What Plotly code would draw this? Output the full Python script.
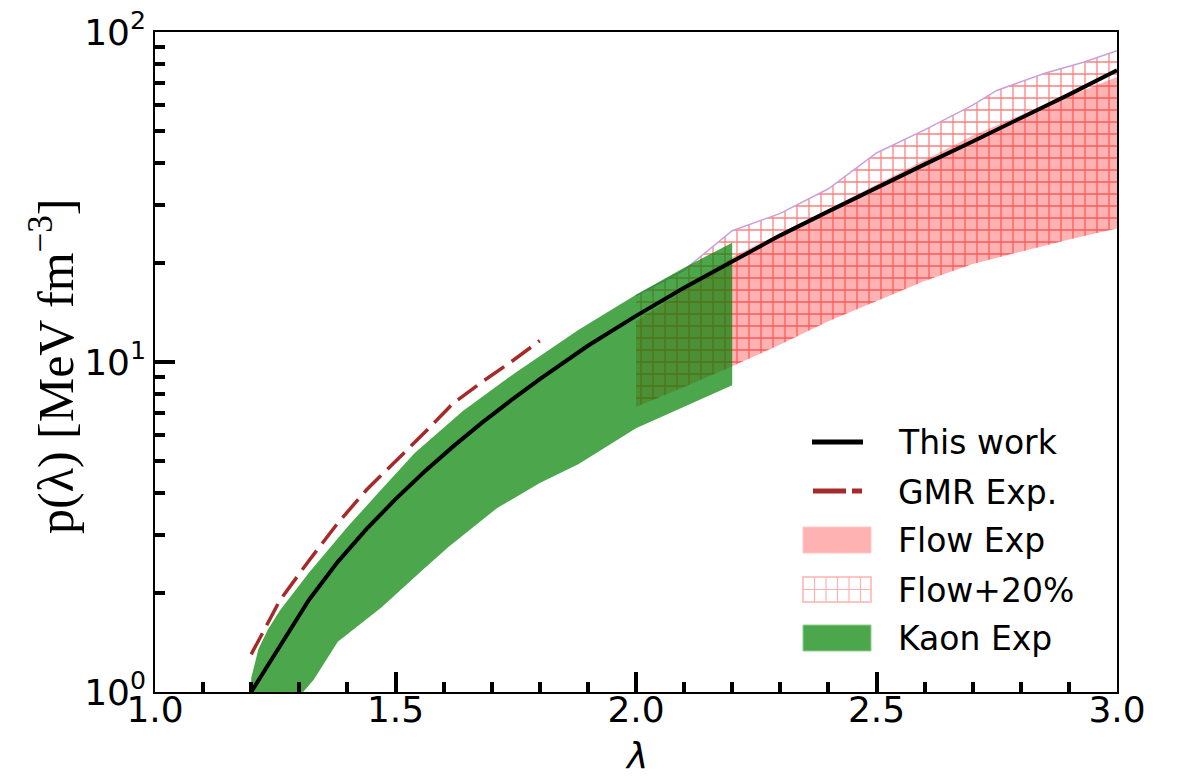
import plotly.graph_objects as go

# ---- data ----
lam_work = [1.2, 1.26, 1.32, 1.38, 1.44, 1.5, 1.56, 1.62, 1.68, 1.74, 1.8, 1.9,
            2.0, 2.1, 2.2, 2.3, 2.4, 2.5, 2.6, 2.7, 2.8, 2.9, 3.0]
p_work = [1.0, 1.38, 1.9, 2.48, 3.12, 3.84, 4.65, 5.55, 6.55, 7.65, 8.87, 11.2,
          13.8, 16.8, 20.2, 24.2, 28.6, 33.8, 39.7, 46.6, 54.7, 64.6, 76.6]

lam_gmr = [1.2, 1.26, 1.32, 1.38, 1.44, 1.5, 1.56, 1.62, 1.68, 1.74, 1.8]
p_gmr = [1.3, 1.9, 2.5, 3.25, 4.1, 5.0, 6.1, 7.5, 8.7, 10.0, 11.6]

lam_kaon_up = [1.2, 1.215, 1.235, 1.26, 1.32, 1.4, 1.47, 1.54, 1.64, 1.75, 1.88, 2.0, 2.1, 2.2]
p_kaon_up = [1.1, 1.35, 1.55, 1.77, 2.3, 3.16, 4.1, 5.3, 7.1, 9.3, 12.5, 16.0, 19.3, 23.0]
lam_kaon_lo = [1.2, 1.25, 1.3, 1.33, 1.38, 1.47, 1.55, 1.61, 1.71, 1.8, 1.88, 2.0, 2.1, 2.2]
p_kaon_lo = [0.55, 0.75, 0.97, 1.09, 1.42, 1.8, 2.3, 2.75, 3.6, 4.3, 4.9, 6.3, 7.3, 8.5]

lam_flow = [2.0, 2.1, 2.2, 2.3, 2.4, 2.5, 2.6, 2.7, 2.8, 2.9, 3.0]
p_flow_lo = [7.3, 8.4, 9.7, 11.3, 13.3, 15.3, 17.6, 19.8, 21.6, 23.5, 25.4]
p_flow_up = [13.3, 16.5, 20.8, 24.5, 29.0, 34.5, 41.0, 48.5, 56.0, 64.0, 73.0]
lam_flow20 = [2.0, 2.1, 2.2, 2.3, 2.4, 2.5, 2.6, 2.7, 2.75, 2.85, 2.93, 3.0]
p_flow20_up = [15.9, 19.0, 25.0, 28.2, 33.5, 43.0, 50.5, 60.0, 66.5, 75.0, 81.0, 87.7]

x_major = [1.0, 1.5, 2.0, 2.5, 3.0]
x_major_text = ["1.0", "1.5", "2.0", "2.5", "3.0"]
x_minor = [1.1, 1.2, 1.3, 1.4, 1.6, 1.7, 1.8, 1.9, 2.1, 2.2, 2.3, 2.4, 2.6, 2.7, 2.8, 2.9]
y_major = [1, 10, 100]
y_major_text = ["10<sup>0</sup>", "10<sup>1</sup>", "10<sup>2</sup>"]
y_minor = [2, 3, 4, 5, 6, 7, 8, 9, 20, 30, 40, 50, 60, 70, 80, 90]

legend_names = ["This work", "GMR Exp.", "Flow Exp", "Flow+20%", "Kaon Exp"]

# ---- page geometry (page pixels) ----
PL, PR, PT, PB = 155, 1117, 32, 692   # plot area in page pixels
W, H = 1178, 778


def xp(px):
    return (px - PL) / (PR - PL)


def yp(py):
    return (PB - py) / (PB - PT)


fig = go.Figure()

# Flow Exp (pink band)
fig.add_trace(go.Scatter(
    x=lam_flow + lam_flow[::-1], y=p_flow_up + p_flow_lo[::-1],
    fill="toself", fillcolor="rgba(255,0,0,0.3)", mode="lines",
    line=dict(width=0, color="rgba(255,0,0,0.3)"),
    name=legend_names[2], hoverinfo="skip"))

# Flow+20% (hatched band)
fig.add_trace(go.Scatter(
    x=lam_flow20 + lam_flow[::-1], y=p_flow20_up + p_flow_lo[::-1],
    fill="toself", fillcolor="rgba(0,0,0,0)", mode="lines",
    line=dict(width=0, color="rgba(255,120,120,0.6)"),
    fillpattern=dict(shape="+", fgcolor="#ff0000", bgcolor="rgba(0,0,0,0)",
                     size=12, solidity=0.2),
    name=legend_names[3], hoverinfo="skip"))
# upper edge of hatched band
fig.add_trace(go.Scatter(
    x=lam_flow20, y=p_flow20_up, mode="lines",
    line=dict(width=1.5, color="#c9a0dc"), hoverinfo="skip"))

# Kaon Exp (green band)
fig.add_trace(go.Scatter(
    x=lam_kaon_up + lam_kaon_lo[::-1], y=p_kaon_up + p_kaon_lo[::-1],
    fill="toself", fillcolor="rgba(0,128,0,0.7)", mode="lines",
    line=dict(width=0, color="rgba(0,128,0,0.7)"),
    name=legend_names[4], hoverinfo="skip"))

# This work
fig.add_trace(go.Scatter(
    x=lam_work, y=p_work, mode="lines", line=dict(color="black", width=4),
    name=legend_names[0]))

# GMR Exp.
fig.add_trace(go.Scatter(
    x=lam_gmr, y=p_gmr, mode="lines",
    line=dict(color="#a52a2a", width=3.5, dash="24px,9px"),
    name=legend_names[1]))

fig.update_layout(
    width=W, height=H,
    margin=dict(l=PL, r=W - PR, t=PT, b=H - PB, autoexpand=False),
    paper_bgcolor="white", plot_bgcolor="white",
    font=dict(family="DejaVu Sans", color="black"),
    showlegend=False,
)

fig.update_xaxes(
    range=[1.0, 3.0], showgrid=False, zeroline=False, automargin=False,
    showline=True, linecolor="black", linewidth=1.5, mirror=True,
    ticks="inside", ticklen=20, tickwidth=4, tickcolor="black",
    tickmode="array", tickvals=x_major, ticktext=x_major_text,
    tickfont=dict(size=36, family="DejaVu Sans"), ticklabelstandoff=-15,
    ticklabeloverflow="allow",
    minor=dict(ticks="inside", ticklen=10, tickwidth=3.5, tickcolor="black",
               tickmode="array", tickvals=x_minor, showgrid=False),
)
fig.update_yaxes(
    type="log", range=[0, 2], showgrid=False, zeroline=False, automargin=False,
    showline=True, linecolor="black", linewidth=1.5, mirror=True,
    ticks="inside", ticklen=20, tickwidth=4, tickcolor="black",
    tickmode="array", tickvals=y_major, ticktext=y_major_text,
    tickfont=dict(size=36, family="DejaVu Sans"), ticklabeloverflow="allow",
    minor=dict(ticks="inside", ticklen=10, tickwidth=3.5, tickcolor="black",
               tickmode="array", tickvals=y_minor, showgrid=False),
)

# axis titles
fig.add_annotation(
    text="p(λ) [MeV fm<sup>−3</sup>]", xref="paper", yref="paper",
    x=xp(52), y=yp(366), xanchor="center", yanchor="middle", textangle=-90,
    showarrow=False, font=dict(size=50, family="Liberation Serif", color="black"))
fig.add_annotation(
    text="<i>λ</i>", xref="paper", yref="paper",
    x=xp(636), y=yp(755), xanchor="center", yanchor="middle",
    showarrow=False, font=dict(size=36, family="DejaVu Sans", color="black"))

# ---- custom legend (page-pixel layout) ----
shapes = []
shapes.append(dict(type="line", xref="paper", yref="paper",
                   x0=xp(812), x1=xp(863), y0=yp(442), y1=yp(442),
                   line=dict(color="black", width=5)))
shapes.append(dict(type="line", xref="paper", yref="paper",
                   x0=xp(813), x1=xp(846), y0=yp(491), y1=yp(491),
                   line=dict(color="#a52a2a", width=5)))
shapes.append(dict(type="line", xref="paper", yref="paper",
                   x0=xp(852), x1=xp(862), y0=yp(491), y1=yp(491),
                   line=dict(color="#a52a2a", width=5)))
shapes.append(dict(type="rect", xref="paper", yref="paper",
                   x0=xp(803), x1=xp(871), y0=yp(553), y1=yp(527),
                   fillcolor="#ffb2b2", line=dict(color="#ffc8c8", width=1)))
shapes.append(dict(type="rect", xref="paper", yref="paper",
                   x0=xp(803), x1=xp(871), y0=yp(602), y1=yp(577),
                   fillcolor="rgba(0,0,0,0)", line=dict(color="#ffb2b2", width=1.5)))
for vx in [814.5, 826, 837.5, 849, 860.5]:
    shapes.append(dict(type="line", xref="paper", yref="paper",
                       x0=xp(vx), x1=xp(vx), y0=yp(602), y1=yp(577),
                       line=dict(color="#ffb2b2", width=1.2)))
for hy in [589.5]:
    shapes.append(dict(type="line", xref="paper", yref="paper",
                       x0=xp(803), x1=xp(871), y0=yp(hy), y1=yp(hy),
                       line=dict(color="#ffb2b2", width=1.2)))
shapes.append(dict(type="rect", xref="paper", yref="paper",
                   x0=xp(803), x1=xp(871), y0=yp(651), y1=yp(625),
                   fillcolor="#4ca64c", line=dict(color="#8fd08f", width=1)))
fig.update_layout(shapes=shapes)

for name, ty in zip(legend_names, [442, 492, 540, 590, 638]):
    fig.add_annotation(text=name, xref="paper", yref="paper",
                       x=xp(896), y=yp(ty), xanchor="left", yanchor="middle",
                       showarrow=False,
                       font=dict(size=33, family="DejaVu Sans", color="black"))

fig.write_html("out.html", config={"displayModeBar": False},
               post_script="document.body.style.margin='0';")
